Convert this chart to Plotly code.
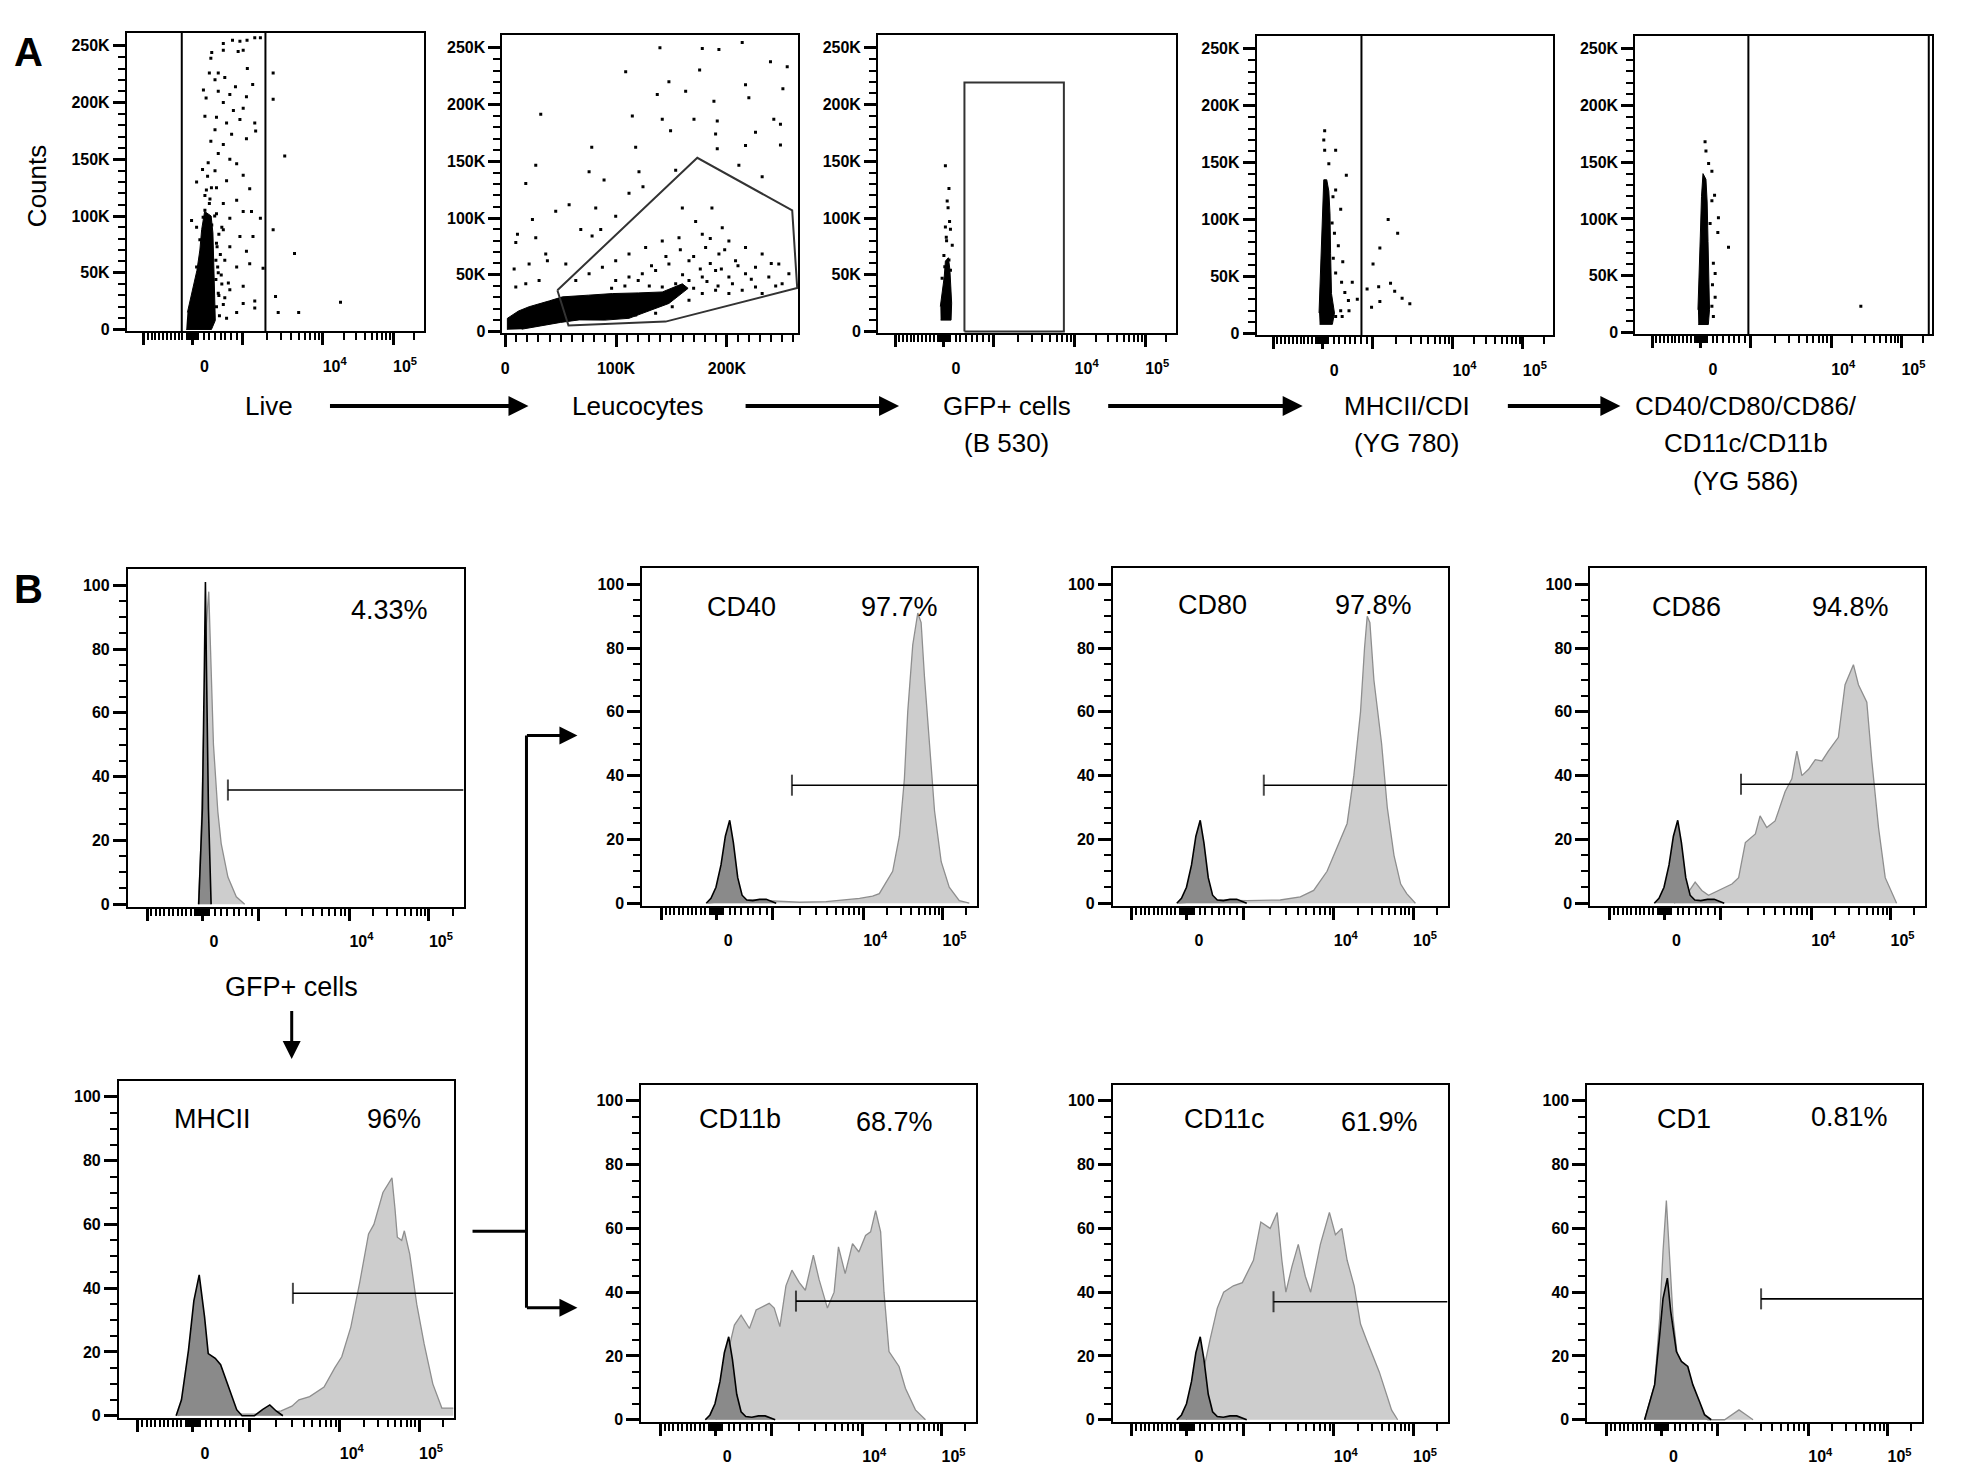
import numpy as np
import plotly.graph_objects as go

W, H = 1961, 1482
FONT = "Liberation Sans"

# ---------------- axis scales ----------------
# biexponential display axis: 0..1000 display units across each plot box
BIEX_TICKS = [57, 221, 389, 660, 897]
BIEX_LABELS = [" ", "0", " ", "10<sup>4</sup>", "10<sup>5</sup>"]
BIEX_MINOR = (list(range(70, 200, 13)) + list(range(201, 245, 4))
              + [261, 276, 296, 316, 331, 351, 371]
              + [389 + 271 * np.log10(k) for k in range(2, 10)]
              + [660 + 237 * np.log10(k) for k in range(2, 10)] + [968])

K_TICKS = [0, 50, 100, 150, 200, 250]
K_LABELS = ["0", "50K", "100K", "150K", "200K", "250K"]
K_MINOR = [v for v in range(10, 260, 10) if v % 50]
FSC_TICKS = [0, 100, 200]
FSC_LABELS = ["0", "100K", "200K"]
FSC_MINOR = [v for v in range(10, 270, 10) if v % 100]

PCT_TICKS = [0, 20, 40, 60, 80, 100]
PCT_MINOR = [v for v in range(5, 100, 5) if v % 20]

# ---------------- panel A data (x: display units or K, y: K) ----------------
LIVE_CORE = [(200, 0), (285, 0), (298, 8), (296, 25), (293, 45), (292, 65), (290, 85), (284, 100),
             (262, 104), (252, 88), (246, 70), (236, 52), (218, 32), (204, 15)]
LIVE_DOTS = [(325, 252), (356, 255), (381, 254), (405, 255), (431, 257), (450, 257), (286, 244), (325, 246),
             (375, 245), (392, 246), (283, 239), (308, 226), (278, 226), (406, 230), (297, 220), (330, 222),
             (366, 214), (424, 216), (258, 211), (308, 210), (347, 207), (403, 205), (267, 204), (325, 200),
             (392, 195), (359, 193), (263, 188), (302, 187), (336, 182), (381, 185), (431, 182), (297, 176),
             (353, 172), (434, 175), (283, 166), (325, 163), (403, 168), (308, 155), (347, 150), (274, 147),
             (370, 146), (297, 140), (255, 141), (336, 131), (392, 136), (235, 130), (268, 123), (302, 125),
             (414, 124), (280, 115), (325, 111), (370, 114), (263, 105), (302, 102), (347, 98), (392, 104),
             (420, 104), (450, 98), (218, 96), (286, 92), (325, 88), (381, 82), (425, 82), (246, 79),
             (302, 76), (347, 73), (403, 69), (414, 58), (459, 54), (330, 61), (370, 55), (308, 50),
             (342, 41), (392, 38), (308, 32), (347, 35), (431, 25), (392, 23), (431, 19), (336, 10),
             (370, 15), (302, 20), (269, 26), (310, 30), (300, 44), (320, 40), (306, 55), (300, 61),
             (304, 73), (235, 55), (263, 118), (235, 90), (257, 99), (278, 111), (315, 66), (320, 90),
             (312, 12), (325, 22), (318, 48), (330, 28), (296, 100), (310, 84), (285, 125), (272, 135),
             (493, 226), (493, 203), (532, 153), (493, 88), (565, 67), (501, 29), (510, 15), (579, 15), (720, 24)]
LIVE_GATES = [185, 467]

LEUCO_CORE = [(2, 1.5), (2, 11.6), (12, 18), (21.6, 21.8), (40, 27), (51.7, 30.5), (75, 32), (96.7, 33.4),
              (120, 34), (141.7, 34.8), (159.8, 42), (165, 38), (147.7, 24.7), (130, 18), (111.7, 11.6),
              (90, 10), (66.7, 10.2), (50, 8), (30.6, 4.4), (15, 2)]
LEUCO_DOTS = [(139.6, 250), (213.8, 254.6), (177.8, 249.4), (192.8, 248.5), (239.3, 237.8), (254.4, 233.4),
              (108.7, 229), (147.7, 220), (175.4, 230.5), (216.8, 217.5), (250.5, 214), (137.2, 208.8),
              (162.8, 211.7), (188.3, 203), (219.8, 205.9), (32.1, 191.4), (114.7, 190), (141.7, 187),
              (170.3, 187), (191.3, 185.6), (242.3, 187), (248.3, 182.7), (225.8, 175.5), (189.8, 174),
              (149.2, 177), (117.7, 162.4), (78.1, 162.4), (191.3, 161), (216.8, 164), (248.3, 164.4),
              (27.6, 146.5), (75.7, 140.7), (120.7, 140.7), (153.8, 142), (210.8, 146.5), (231.8, 136.3),
              (89.2, 133.4), (124.3, 127.6), (18.6, 130.5), (111.7, 121.8), (57.7, 111.7), (81.7, 108.8),
              (99.7, 101.5), (45.6, 105.9), (24.6, 98.6), (11.1, 85.6), (27.6, 82.7), (68.2, 89.9),
              (86.2, 89.9), (78.4, 84.1), (36.6, 68.2), (9.6, 78.3), (8.1, 55.1), (21.6, 59.5), (38.1, 62.4),
              (54.7, 59.5), (9.6, 39.2), (18.6, 42), (30.6, 45), (159.8, 108.8), (171.8, 97), (186.5, 108.8),
              (195.8, 91.4), (177.8, 85.6), (156.8, 82.7), (141.7, 79.8), (126.7, 74), (111.7, 68.2),
              (99.7, 62.4), (87.7, 56.6), (75.7, 50.8), (63.7, 45), (201.8, 79.8), (216.8, 74), (231.8, 68.2),
              (246.8, 59.5), (255.9, 50.8), (225.8, 56.6), (207.8, 62.4), (192.8, 68.2), (180.8, 74),
              (165.8, 62.4), (147.7, 59.5), (135.7, 53.7), (123.7, 50.8), (111.7, 47.9), (99.7, 45),
              (201.8, 47.9), (216.8, 50.8), (237.8, 47.9), (249.8, 42), (189.8, 53.7), (177.8, 47.9),
              (165.8, 45), (153.8, 42), (141.7, 39.2), (225.8, 39.2), (213.8, 36.3), (201.8, 33.4),
              (189.8, 36.3), (177.8, 33.4), (231.8, 33.4), (165.8, 27.6), (150.7, 21.8), (135.7, 16),
              (117.7, 14.5), (185, 60), (195, 55), (205, 42), (170, 38), (160, 50), (150, 30), (130, 40),
              (182, 44), (192, 40), (176, 55), (210, 58), (222, 46), (198, 72), (185, 82), (170, 66),
              (158, 72), (145, 66), (132, 58), (120, 45), (108, 40), (96, 38), (240, 60), (244, 40)]
LEUCO_GATE = [(47.1, 36.3), (173.3, 153.1), (258.9, 106.7), (263.4, 38.3), (144.7, 8.7), (57.1, 5.2),
              (47.1, 36.3)]

GFP_CORE = [(210, 10), (245, 10), (247, 25), (245, 40), (241, 55), (236, 65), (226, 62), (222, 48),
            (216, 35), (209, 22)]
GFP_DOTS = [(226, 146), (238, 126), (232, 115), (235, 109), (240, 97), (226, 92), (243, 90), (230, 80),
            (249, 76), (221, 67), (238, 63), (224, 57), (243, 54), (215, 47), (232, 42), (238, 38), (229, 83)]
GFP_GATE = [(290, 0), (290, 219.5), (624, 219.5), (624, 0), (290, 0)]

MHC_CORE = [(212, 8), (255, 8), (262, 18), (252, 35), (249, 70), (247, 105), (243, 125), (236, 135),
            (226, 135), (222, 105), (218, 65), (214, 35), (210, 18)]
MHC_DOTS = [(229, 178), (226, 170), (229, 161), (266, 161), (243, 149), (302, 139), (266, 126), (257, 120),
            (283, 109), (254, 97), (275, 77), (290, 63), (266, 53), (286, 45), (322, 45), (297, 36),
            (309, 29), (339, 30), (283, 20), (311, 20), (266, 15), (288, 15), (262, 88), (258, 66),
            (443, 100), (475, 88), (415, 75), (392, 61), (372, 39), (411, 41), (451, 44), (465, 37),
            (490, 31), (516, 26), (415, 28), (387, 23)]
MHC_GATES = [353]

CD_CORE = [(212, 7), (246, 7), (250, 20), (247, 45), (245, 80), (242, 115), (238, 135), (228, 140),
           (223, 120), (219, 85), (215, 50), (211, 20)]
CD_DOTS = [(235, 168), (238, 160), (247, 149), (258, 142), (267, 121), (258, 116), (280, 101), (252, 96),
           (278, 88), (314, 75), (263, 61), (269, 52), (260, 42), (269, 31), (258, 23), (263, 14), (760, 23)]
CD_GATES = [381, 989]

# ---------------- panel B data (x: display units, y: % of max) ----------------
GFP_LIGHT_X = [210, 218, 226, 234, 241, 249, 255, 268, 278, 298, 323, 348]
GFP_LIGHT_Y = [0, 20, 55, 88, 98, 71, 50, 29, 19, 8.5, 2.3, 0]
GFP_DARK_X = [211, 222, 228, 231, 234, 240, 248]
GFP_DARK_Y = [0, 30, 75, 101, 75, 30, 0]

CTRL_X = [191, 205, 220, 235, 248, 261, 272, 285, 298, 312, 330, 350, 370, 388, 400]
CTRL_Y = [0, 1.5, 5, 12, 21, 26, 19, 8, 2.5, 1, 0.8, 1.2, 1.2, 0.5, 0]

CD40_X = [195, 260, 330, 400, 470, 549, 600, 649, 688, 708, 748, 768, 783, 793, 808, 823, 833, 843, 858,
          873, 893, 917, 947, 977]
CD40_Y = [0, 0.8, 1.0, 0.6, 0.3, 0.5, 1.0, 1.5, 2.2, 3, 10, 21, 39, 60, 81, 91, 88, 71, 50, 29, 13, 5, 0.8, 0]

CD80_X = [195, 300, 400, 500, 560, 600, 640, 672, 700, 720, 740, 752, 760, 768, 780, 803, 820, 840, 860,
          878, 904]
CD80_Y = [0, 1, 0.8, 1, 2, 4, 10, 18, 25, 40, 60, 80, 90, 88, 70, 50, 30, 15, 6, 3, 0]

CD86_X = [250, 290, 313, 333, 353, 373, 393, 423, 443, 463, 493, 507, 527, 552, 582, 602, 617, 632, 652,
          672, 692, 711, 741, 761, 786, 801, 826, 841, 861, 881, 915]
CD86_Y = [0, 3, 6.6, 4, 2.5, 3.5, 4.5, 6, 8, 19, 21.7, 27.4, 23.7, 25.8, 35, 39, 47.7, 40, 42, 45, 44.6,
          47.7, 52, 68.5, 74.8, 68.5, 63, 44.6, 23.7, 8, 0]

MHCII_X = [176, 210, 240, 280, 320, 368, 421, 485, 517, 538, 570, 613, 645, 666, 693, 720, 746, 762, 789,
           816, 825, 832, 845, 853, 869, 890, 912, 938, 965, 1000]
MHCII_Y = [0, 1.5, 2.1, 1.5, 1.2, 0.5, 0.5, 1.5, 3, 5, 6, 9, 15, 18.5, 27.8, 42, 57, 60, 70, 74.6, 65, 56,
           55, 58, 50.7, 35, 22.6, 10, 2.4, 2.4]
MHCII_CTRL_X = [171, 187, 208, 224, 240, 256, 267, 288, 304, 325, 352, 368, 405, 430, 451, 470, 490]
MHCII_CTRL_Y = [0, 5, 20.6, 36, 44.2, 31, 19.5, 18, 16, 10, 1.9, 0, 0, 2, 3.4, 1.5, 0]

CD11B_X = [223, 243, 263, 278, 298, 323, 343, 382, 397, 414, 432, 450, 472, 490, 514, 531, 556, 576, 589,
           609, 631, 650, 670, 685, 700, 715, 725, 740, 770, 789, 819, 849]
CD11B_Y = [0, 11, 23, 29.7, 32.8, 28.6, 34.4, 36.5, 35, 29.2, 42, 46.9, 43, 40.6, 51.6, 44, 35, 40, 54.2,
           45.8, 55.2, 52.6, 57.8, 58.9, 65.6, 58.9, 40, 21.4, 16.7, 9.9, 3.1, 0]

CD11C_X = [219, 260, 290, 312, 331, 360, 387, 420, 442, 470, 491, 505, 517, 535, 554, 575, 591, 620, 647,
           665, 684, 700, 721, 740, 758, 796, 833, 851]
CD11C_Y = [0, 10, 25, 35, 40, 42, 43, 50, 62, 60, 65, 50, 40, 48, 55, 45, 40, 55, 65, 58, 60, 50, 42, 30,
           25, 15, 3, 0]

CD1_X = [171, 201, 216, 226, 236, 246, 256, 271, 291, 311, 341, 360, 410, 430, 453, 475, 495]
CD1_Y = [0, 11, 32, 52.8, 68.7, 50.7, 32, 18, 11, 4.7, 1, 0, 0, 1.5, 3.1, 1.5, 0]
CD1_CTRL_X = [171, 201, 216, 226, 239, 249, 266, 281, 300, 315, 335, 350, 370]
CD1_CTRL_Y = [0, 11, 26.6, 38, 44.4, 34, 21.4, 18.3, 16.7, 11, 5.7, 1.6, 0]

# gate start (display units) and height (%)
GATE_START = {"GFP": 298, "CD40": 447, "CD80": 451, "CD86": 450, "MHCII": 520, "CD11b": 462,
              "CD11c": 480, "CD1": 519}
GATE_Y = {"GFP": 35.8, "CD40": 37, "CD80": 37, "CD86": 37.3, "MHCII": 38.4, "CD11b": 37.2,
          "CD11c": 37, "CD1": 37.9}
PERCENT = {"GFP": "4.33%", "CD40": "97.7%", "CD80": "97.8%", "CD86": "94.8%", "MHCII": "96%",
           "CD11b": "68.7%", "CD11c": "61.9%", "CD1": "0.81%"}

# ---------------- layout helpers ----------------
TICKFONT = dict(family=FONT, size=16, color="black", weight="bold")
BASE = dict(showline=True, linecolor="black", linewidth=2, mirror=True, showgrid=False, zeroline=False,
            ticks="outside", tickcolor="black", fixedrange=True, tickfont=TICKFONT, tickmode="array")


def minor(vals):
    return dict(tickmode="array", tickvals=vals, ticks="outside", ticklen=7, tickwidth=1.5, tickcolor="black")


def biex_x():
    return dict(BASE, range=[0, 1000], tickvals=BIEX_TICKS, ticktext=BIEX_LABELS, ticklen=12, tickwidth=3,
                minor=minor(BIEX_MINOR), ticklabelshift=12, ticklabelstandoff=7)


def k_y(top=261.4, bottom=-1.75):
    return dict(BASE, range=[bottom, top], tickvals=K_TICKS, ticktext=K_LABELS, ticklen=12, tickwidth=3,
                minor=minor(K_MINOR))


def pct_y():
    return dict(BASE, range=[-0.8, 105], tickvals=PCT_TICKS, ticklen=13, tickwidth=3, minor=minor(PCT_MINOR))


fig = go.Figure()
layout = dict(width=W, height=H, margin=dict(l=0, r=0, t=0, b=0), paper_bgcolor="white",
              plot_bgcolor="white", showlegend=False)
ann = []
shapes = []
n_ax = [0]


def new_axes(x0, x1, y0, y1, xcfg, ycfg):
    n_ax[0] += 1
    i = n_ax[0]
    sx = "" if i == 1 else str(i)
    layout["xaxis" + sx] = dict(xcfg, domain=[x0 / W, x1 / W], anchor="y" + sx)
    layout["yaxis" + sx] = dict(ycfg, domain=[1 - y1 / H, 1 - y0 / H], anchor="x" + sx)
    return "x" + sx, "y" + sx


def unzip(pairs):
    return [p[0] for p in pairs], [p[1] for p in pairs]


def dot_plot(box, core, dots, xcfg, gate_x=None, gate_poly=None):
    xa, ya = new_axes(*box, xcfg, k_y())
    cx, cy = unzip(core)
    fig.add_trace(go.Scatter(x=cx, y=cy, xaxis=xa, yaxis=ya, mode="lines", fill="toself",
                             fillcolor="black", line=dict(width=1, color="black"), hoverinfo="skip"))
    dx, dy = unzip(dots)
    fig.add_trace(go.Scatter(x=dx, y=dy, xaxis=xa, yaxis=ya, mode="markers",
                             marker=dict(symbol="square", size=3, color="black", line=dict(width=0))))
    if gate_x:
        gx, gy = [], []
        for g in gate_x:
            gx += [g, g, None]
            gy += [-5, 270, None]
        fig.add_trace(go.Scatter(x=gx, y=gy, xaxis=xa, yaxis=ya, mode="lines",
                                 line=dict(color="black", width=2)))
    if gate_poly:
        px_, py_ = unzip(gate_poly)
        fig.add_trace(go.Scatter(x=px_, y=py_, xaxis=xa, yaxis=ya, mode="lines",
                                 line=dict(color="#333333", width=2)))


def hist_plot(box, key, light_x, light_y, dark_x, dark_y, name=None, name_pos=None, pct_pos=None):
    xa, ya = new_axes(*box, biex_x(), pct_y())
    fig.add_trace(go.Scatter(x=light_x, y=light_y, xaxis=xa, yaxis=ya, mode="lines", fill="tozeroy",
                             fillcolor="#cdcdcd", line=dict(color="#8e8e8e", width=1.3)))
    fig.add_trace(go.Scatter(x=dark_x, y=dark_y, xaxis=xa, yaxis=ya, mode="lines", fill="tozeroy",
                             fillcolor="#8a8a8a", line=dict(color="black", width=1.6)))
    g0, gy = GATE_START[key], GATE_Y[key]
    fig.add_trace(go.Scatter(x=[g0, 1000], y=[gy, gy], xaxis=xa, yaxis=ya, mode="lines+markers",
                             line=dict(color="black", width=1.6),
                             marker=dict(symbol="line-ns", size=[15, 0], line=dict(width=2, color="black"))))
    if name:
        label(name, *name_pos, 27)
    label(PERCENT[key], *pct_pos, 27)


def label(text, x, y, size, bold=False, angle=0):
    ann.append(dict(text=text, x=x / W, y=1 - y / H, xref="paper", yref="paper", showarrow=False,
                    xanchor="center", yanchor="middle", textangle=angle,
                    font=dict(family=FONT, size=size, color="black", weight="bold" if bold else "normal")))


def arrow(x0, y0, x1, y1, width, size):
    ann.append(dict(text=" ", x=x1 / W, y=1 - y1 / H, xref="paper", yref="paper", ax=x0 - x1, ay=y0 - y1,
                    showarrow=True, arrowhead=2, arrowsize=size, arrowwidth=width, arrowcolor="black",
                    font=dict(size=1)))


def line(x0, y0, x1, y1, width):
    shapes.append(dict(type="line", xref="paper", yref="paper", x0=x0 / W, y0=1 - y0 / H, x1=x1 / W,
                       y1=1 - y1 / H, line=dict(color="black", width=width)))


# ---------------- panel A ----------------
dot_plot((117, 414, 25, 325), LIVE_CORE, LIVE_DOTS, biex_x(), gate_x=LIVE_GATES)
fsc_x = dict(BASE, range=[-2.4, 264.3], tickvals=FSC_TICKS, ticktext=FSC_LABELS, ticklen=12, tickwidth=3,
             minor=dict(minor(FSC_MINOR), ticklen=7), ticklabelstandoff=7)
dot_plot((493, 789, 27, 327), LEUCO_CORE, LEUCO_DOTS, fsc_x, gate_poly=LEUCO_GATE)
dot_plot((869, 1167, 27, 327), GFP_CORE, GFP_DOTS, biex_x(), gate_poly=GFP_GATE)
dot_plot((1248, 1545, 28, 329), MHC_CORE, MHC_DOTS, biex_x(), gate_x=MHC_GATES)
dot_plot((1627, 1924, 28, 328), CD_CORE, CD_DOTS, biex_x(), gate_x=CD_GATES)

label("A", 19, 44, 40, bold=True)
label("Counts", 27, 179, 26, angle=-90)

# gating sequence
label("Live", 259, 400, 26)
label("Leucocytes", 629, 400, 26)
label("GFP+ cells", 998, 400, 26)
label("(B 530)", 998, 437, 26)
label("MHCII/CDI", 1398, 400, 26)
label("(YG 780)", 1398, 437, 26)
label("CD40/CD80/CD86/", 1738, 400, 26)
label("CD11c/CD11b", 1738, 437, 26)
label("(YG 586)", 1738, 475, 26)
arrow(319, 400, 519, 400, 4, 1)
arrow(735, 400, 890, 400, 4, 1)
arrow(1098, 400, 1294, 400, 4, 1)
arrow(1498, 400, 1612, 400, 4, 1)

# ---------------- panel B ----------------
label("B", 19, 584, 40, bold=True)
hist_plot((118, 454, 564, 903), "GFP", GFP_LIGHT_X, GFP_LIGHT_Y, GFP_DARK_X, GFP_DARK_Y,
          pct_pos=(380, 605))
hist_plot((633, 968, 563, 902), "CD40", CD40_X, CD40_Y, CTRL_X, CTRL_Y, "CD40", (732, 602), (890, 602))
hist_plot((1104, 1439, 563, 902), "CD80", CD80_X, CD80_Y, CTRL_X, CTRL_Y, "CD80", (1204, 600), (1365, 600))
hist_plot((1582, 1917, 563, 902), "CD86", CD86_X, CD86_Y, CTRL_X, CTRL_Y, "CD86", (1678, 602), (1842, 602))
hist_plot((109, 444, 1078, 1417), "MHCII", MHCII_X, MHCII_Y, MHCII_CTRL_X, MHCII_CTRL_Y, "MHCII",
          (203, 1116), (384, 1116))
hist_plot((632, 967, 1082, 1421), "CD11b", CD11B_X, CD11B_Y, CTRL_X, CTRL_Y, "CD11b", (731, 1116),
          (885, 1119))
hist_plot((1104, 1439, 1082, 1421), "CD11c", CD11C_X, CD11C_Y, CTRL_X, CTRL_Y, "CD11c", (1216, 1116),
          (1371, 1119))
hist_plot((1579, 1914, 1082, 1421), "CD1", CD1_X, CD1_Y, CD1_CTRL_X, CD1_CTRL_Y, "CD1", (1676, 1116),
          (1841, 1114))

label("GFP+ cells", 282, 984, 27)
arrow(282, 1006, 282, 1056, 3, 1.2)
line(463, 1229, 517, 1229, 3)
line(517, 731, 517, 1306, 3)
arrow(516, 731, 568, 731, 3, 1.2)
arrow(516, 1306, 568, 1306, 3, 1.2)

layout["annotations"] = ann
layout["shapes"] = shapes
fig.update_layout(**layout)
fig.write_html("out.html")
